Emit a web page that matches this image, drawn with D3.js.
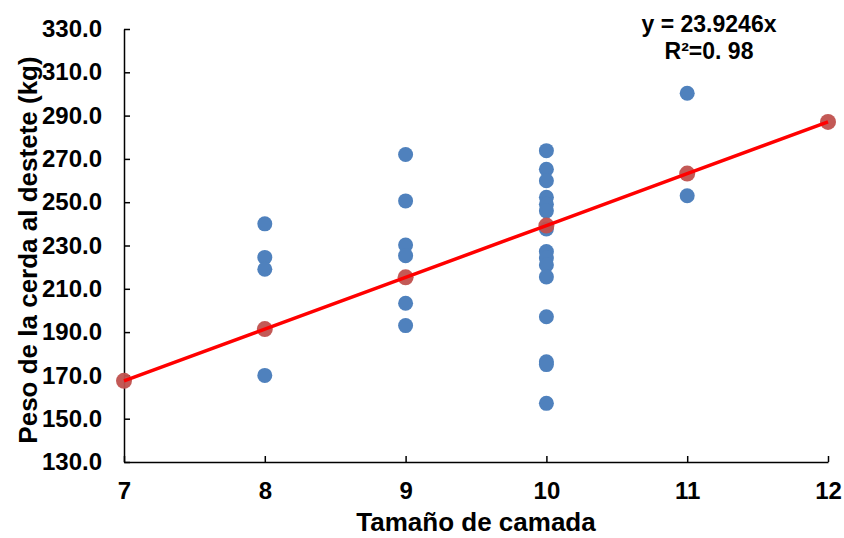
<!DOCTYPE html>
<html><head><meta charset="utf-8">
<script src="https://cdn.jsdelivr.net/npm/d3@7"></script>
<style>body{margin:0;background:#fff}svg{display:block}text{font-family:"Liberation Sans",Arial,sans-serif;font-weight:bold}</style>
</head><body><svg id="c" width="844" height="538"></svg>
<script>
// Observed data: litter size vs sow weight at weaning
const obsX = [8,8,8,8, 9,9,9,9,9,9, 10,10,10,10,10,10,10,10,10,10,10,10,10,10,10, 11,11];
const obsY = [240,224.5,219,170, 272,250.6,230.2,225.3,203.3,193, 273.8,265.2,259.9,252.3,249,246,237.6,227.2,224.2,221,215.5,197.1,176.3,175,157.1, 300.3,253];
// Fitted values (trendline y = 23.9246x)
const fitX = [7,8,9,10,11,12];
const fitY = [167.5,191.4,215.3,239.2,263.2,287.1];
const xTicks = [7,8,9,10,11,12];
const yTicks = [130,150,170,190,210,230,250,270,290,310,330];
const eqLines = ["y = 23.9246x","R²=0. 98"];
const xTitle = "Tamaño de camada";
const yTitle = "Peso de la cerda al destete (kg)";

const svg = d3.select("#c");
const L=124, R=828, T=29, B=462;
const x = d3.scaleLinear().domain([7,12]).range([L,R]);
const y = d3.scaleLinear().domain([130,330]).range([B,T]);

const ga = svg.append("g");
const yAxis = ga.append("g").attr("transform",`translate(${L},0)`)
  .call(d3.axisLeft(y).tickValues(yTicks).tickSizeInner(-6).tickSizeOuter(0).tickPadding(22).tickFormat(d3.format(".1f")));
const xAxis = ga.append("g").attr("transform",`translate(0,${B})`)
  .call(d3.axisBottom(x).tickValues(xTicks).tickSizeInner(-6).tickSizeOuter(0).tickPadding(20).tickFormat(d3.format("d")));
[yAxis,xAxis].forEach(a=>{
  a.selectAll("path,line").attr("stroke","#000").attr("stroke-width",1.5);
  a.selectAll("text").attr("fill","#000").style("font-size","24px");
});

svg.append("g").selectAll("circle").data(obsX).join("circle")
  .attr("cx",(d)=>x(d)).attr("cy",(d,i)=>y(obsY[i])).attr("r",7.5).attr("fill","#4F81BD");
svg.append("g").selectAll("circle").data(fitX).join("circle")
  .attr("cx",d=>x(d)).attr("cy",(d,i)=>y(fitY[i])).attr("r",8).attr("fill","#C0504D").attr("fill-opacity",0.95);
svg.append("path").datum(fitX.map((d,i)=>[d,fitY[i]]))
  .attr("d",d3.line().x(d=>x(d[0])).y(d=>y(d[1])))
  .attr("stroke","#FF0000").attr("stroke-width",3.5).attr("fill","none");

svg.append("g").selectAll("text").data(eqLines).join("text")
  .attr("x",709).attr("y",(d,i)=>32+i*27).attr("text-anchor","middle")
  .style("font-size","23px").attr("fill","#000").text(d=>d);

svg.append("text").attr("x",476).attr("y",531).attr("text-anchor","middle")
  .style("font-size","26px").attr("fill","#000").text(xTitle);
svg.append("text").attr("transform",`translate(37,250) rotate(-90)`).attr("text-anchor","middle")
  .style("font-size","26px").attr("fill","#000").text(yTitle);
</script></body></html>
